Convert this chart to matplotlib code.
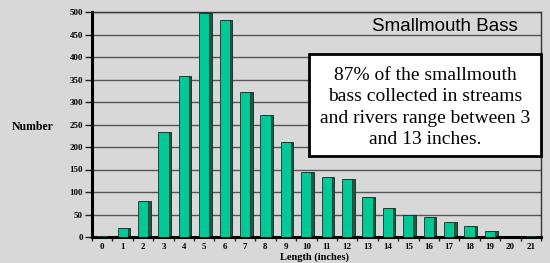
import matplotlib
matplotlib.use("Agg")
import matplotlib.pyplot as plt
import numpy as np

lengths = [str(i) for i in range(22)]
counts = [2, 20, 80, 234, 357, 497, 482, 323, 272, 212, 144, 133, 130, 90, 64, 49, 44, 33, 24, 13, 1, 3]
yticks = [0, 50, 100, 150, 200, 250, 300, 350, 400, 450, 500]

bg = "#d8d8d8"
fig = plt.figure(figsize=(5.5, 2.63), dpi=100, facecolor=bg)
ax = fig.add_axes([92/550, 1-237/263, (541-92)/550, (237-12)/263], facecolor=bg)

x = np.arange(len(counts))
# 3D side shadow
ax.bar(x + 0.12, counts, width=0.5, color="#1f5a47", edgecolor="#0b2a20", linewidth=0.6, zorder=2)
ax.bar(x, counts, width=0.5, color="#00c896", edgecolor="#0b3a2a", linewidth=0.6, zorder=3)

ax.set_xlim(-0.5, len(counts) - 0.5)
ax.set_ylim(0, 500)
ax.set_yticks(yticks)
ax.set_xticks(x)
ax.set_xticklabels(lengths)
ax.set_xticks(np.arange(len(counts) + 1) - 0.5, minor=True)
ax.yaxis.grid(True, color="#555555", linewidth=1.0, zorder=0)
ax.set_axisbelow(True)

for lab in ax.get_xticklabels() + ax.get_yticklabels():
    lab.set_fontfamily("Liberation Serif")
    lab.set_fontweight("bold")
    lab.set_fontsize(6.5)
ax.tick_params(axis="y", length=5, width=1, color="#222222", pad=1.5)
ax.tick_params(axis="x", which="major", length=0, pad=4.5)
ax.tick_params(axis="x", which="minor", length=3, width=1, color="#222222", direction="out")

for s in ["left", "bottom"]:
    ax.spines[s].set_linewidth(2.2)
for s in ["top", "right"]:
    ax.spines[s].set_linewidth(1.0)
    ax.spines[s].set_color("#333333")

fig.text(12/550, 1-127/263, "Number", fontfamily="Liberation Serif", fontweight="bold",
         fontsize=8.5, va="center", ha="left")
fig.text(315/550, 1-257.5/263, "Length (inches)", fontfamily="Liberation Serif", fontweight="bold",
         fontsize=7.5, va="center", ha="center")

fig.text(445/550, 1-26.5/263, "Smallmouth Bass", fontfamily="Liberation Sans",
         fontsize=13.5, va="center", ha="center")

# text box
box_l, box_t, box_r, box_b = 309, 54, 541, 156
rect = plt.Rectangle((box_l/550, 1-box_b/263), (box_r-box_l)/550, (box_b-box_t)/263,
                     transform=fig.transFigure, facecolor="white", edgecolor="black",
                     linewidth=2.0, zorder=10)
fig.patches.append(rect)
fig.text((box_l+box_r)/2/550, 1-107.5/263,
         "87% of the smallmouth\nbass collected in streams\nand rivers range between 3\nand 13 inches.",
         fontfamily="Liberation Serif", fontsize=14, ha="center", va="center",
         linespacing=1.32, zorder=11)

fig.savefig("out.png", dpi=100, facecolor=bg)
